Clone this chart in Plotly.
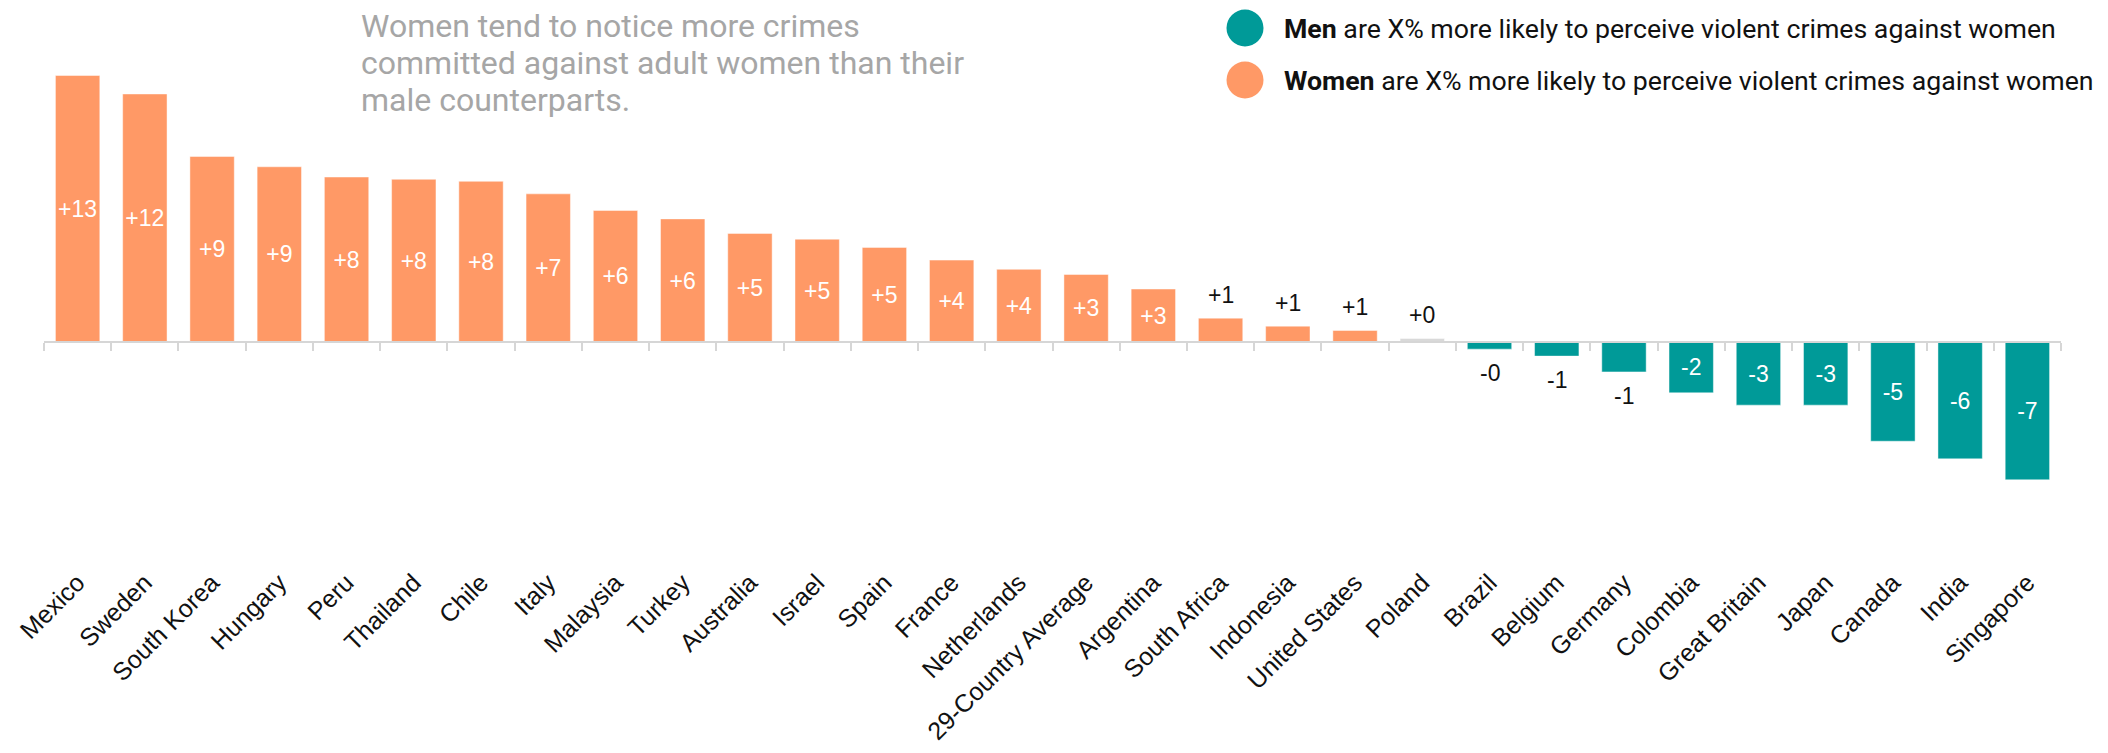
import plotly.graph_objects as go

# ---------------- data ----------------
countries = [
    "Mexico", "Sweden", "South Korea", "Hungary", "Peru", "Thailand", "Chile",
    "Italy", "Malaysia", "Turkey", "Australia", "Israel", "Spain", "France",
    "Netherlands", "29-Country Average", "Argentina", "South Africa", "Indonesia",
    "United States", "Poland", "Brazil", "Belgium", "Germany", "Colombia",
    "Great Britain", "Japan", "Canada", "India", "Singapore",
]
gap_values = [
    13.0, 12.1, 9.05, 8.55, 8.05, 7.94, 7.84,
    7.23, 6.42, 6.01, 5.30, 5.02, 4.62, 4.0,
    3.55, 3.3, 2.59, 1.17, 0.78,
    0.57, 0.18, -0.34, -0.68, -1.45, -2.47,
    -3.07, -3.07, -4.83, -5.69, -6.71,
]
neutral_countries = ["Poland"]

title_lines = [
    "Women tend to notice more crimes",
    "committed against adult women than their",
    "male counterparts.",
]
legend_items = [
    ("Men", "are X% more likely to perceive violent crimes against women"),
    ("Women", "are X% more likely to perceive violent crimes against women"),
]

# ---------------- style ----------------
ORANGE = "#ff9966"
TEAL = "#009a98"
GREY = "#d9d9d9"
AXIS = "#d6d6d6"
LABEL_FONT = "Liberation Sans, Arial, sans-serif"
ROBOTO = "Roboto, sans-serif"

# the page body adds an 8px offset, so the figure is 8px smaller
W, H = 2100, 745
L, R, T, B = 36, 2053, 47, 488
YMIN, YMAX = -7.5, 14.0


def px_x(px):
    return (px - L) / (R - L)


def px_y(py):
    return (B - py) / (B - T)


colors = []
for c, v in zip(countries, gap_values):
    if c in neutral_countries:
        colors.append(GREY)
    elif v > 0:
        colors.append(ORANGE)
    else:
        colors.append(TEAL)

labels = [f"{v:+.0f}" for v in gap_values]
inside = [abs(v) >= 2 for v in gap_values]

fig = go.Figure()
fig.add_trace(go.Bar(
    x=countries,
    y=gap_values,
    marker=dict(color=colors, line=dict(color="rgba(255,255,255,0.45)", width=1)),
    text=[t if ins else "" for t, ins in zip(labels, inside)],
    textposition=["inside" if ins else "none" for ins in inside],
    insidetextanchor="middle",
    textangle=0,
    insidetextfont=dict(family=LABEL_FONT, size=23, color="white"),
    hoverinfo="x+y",
    showlegend=False,
))

annotations = []
# outside labels for small bars
for c, v, t, ins in zip(countries, gap_values, labels, inside):
    if ins:
        continue
    annotations.append(dict(
        x=c, y=v, xref="x", yref="y", text=t, showarrow=False,
        yanchor="bottom" if v >= 0 else "top",
        yshift=8 if v >= 0 else -9,
        font=dict(family=LABEL_FONT, size=23, color="#111111"),
    ))

# note text, one annotation per line
for i, line in enumerate(title_lines):
    annotations.append(dict(
        x=px_x(351), y=px_y(-3 + 37 * i), xref="paper", yref="paper",
        xanchor="left", yanchor="top", align="left", showarrow=False,
        text=line,
        font=dict(family=ROBOTO, size=32, color="#a6a6a6"),
    ))

# custom legend
shapes = []
legend_colors = [TEAL, ORANGE]
legend_y = [20, 72]
for (bold, rest), col, ly in zip(legend_items, legend_colors, legend_y):
    shapes.append(dict(
        type="circle", xref="paper", yref="paper",
        xsizemode="pixel", ysizemode="pixel",
        xanchor=px_x(1237), yanchor=px_y(ly),
        x0=-18.5, x1=18.5, y0=-18.5, y1=18.5,
        fillcolor=col, line=dict(width=0),
    ))
    annotations.append(dict(
        x=px_x(1274), y=px_y(ly + 1), xref="paper", yref="paper",
        xanchor="left", yanchor="middle", showarrow=False,
        text=f"<b>{bold}</b> {rest}",
        font=dict(family=ROBOTO, size=26.7, color="#111111"),
    ))

zero_pos = (0 - YMIN) / (YMAX - YMIN)

fig.update_layout(
    width=W, height=H,
    margin=dict(l=L, r=W - R, t=T, b=H - B, autoexpand=False),
    paper_bgcolor="white", plot_bgcolor="white",
    bargap=0.34,
    uniformtext=dict(minsize=23, mode="show"),
    font=dict(family=LABEL_FONT, color="#111111"),
    annotations=annotations,
    shapes=shapes,
    showlegend=False,
    xaxis=dict(
        type="category",
        anchor="free", position=zero_pos,
        showline=True, linecolor=AXIS, linewidth=2,
        ticks="outside", tickson="boundaries", ticklen=8,
        tickcolor=AXIS, tickwidth=2,
        tickangle=-45,
        ticklabelstandoff=215,
        tickfont=dict(family=LABEL_FONT, size=25, color="#111111"),
        showgrid=False, zeroline=False,
        automargin=False,
    ),
    yaxis=dict(
        range=[YMIN, YMAX], visible=False, showgrid=False, zeroline=False,
        domain=[0, 1],
    ),
)

fig.write_html("out.html")
